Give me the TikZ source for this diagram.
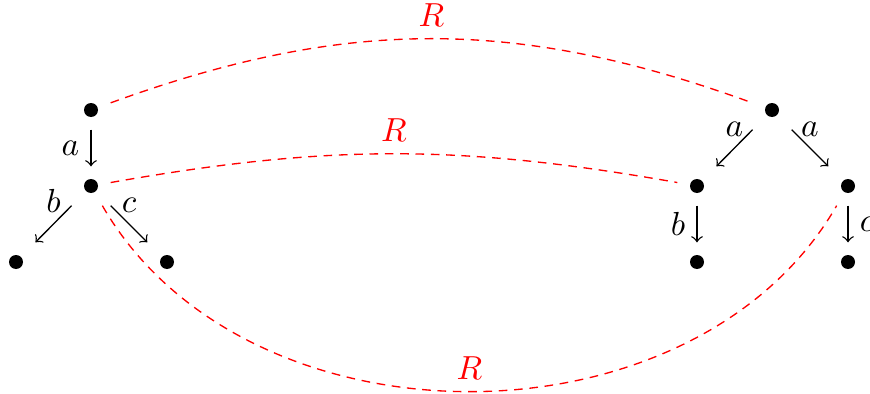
\documentclass[tikz,border=0pt]{standalone}
\begin{document}
\begin{tikzpicture}[x=0.3pt,y=-0.3pt,
  bul/.style={rectangle,minimum size=11.4pt,inner sep=0pt,
    path picture={\fill (path picture bounding box.center) circle (2.1pt);}},
  tr/.style={->,line width=0.4pt},
  rel/.style={red,line width=0.4pt,dash pattern=on 2.6pt off 2pt}]
\useasboundingbox (0,0) rectangle (870,394);
% left tree
\node[bul] (l0) at (91,110) {};
\node[bul] (l1) at (91,186) {};
\node[bul] (l2) at (16,262) {};
\node[bul] (l3) at (167,262) {};
% right tree
\node[bul] (r0) at (772,110) {};
\node[bul] (r1) at (697,186) {};
\node[bul] (r2) at (848,186) {};
\node[bul] (r3) at (697,262) {};
\node[bul] (r4) at (848,262) {};
% transitions
\draw[tr] (l0) -- node[left] (la) {$a$} (l1);
\draw[tr] (l1) -- node[above] (lb) {$b$} (l2);
\draw[tr] (l1) -- node[above] (lc) {$c$} (l3);
\draw[tr] (r0) -- node[above] (ra1) {$a$} (r1);
\draw[tr] (r0) -- node[above] (ra2) {$a$} (r2);
\draw[tr] (r1) -- node[left] (rb) {$b$} (r3);
\draw[tr] (r2) -- node[right] (rc) {$c$} (r4);
% relation
\draw[rel] (l0) to[bend left=20] node[above] (R1) {$R$} (r0);
\draw[rel] (l1) to[bend left=10] node[above] (R2) {$R$} (r1);
\draw[rel] (l1) to[bend right=60] node[above] (R3) {$R$} (r2);
\end{tikzpicture}
\end{document}
